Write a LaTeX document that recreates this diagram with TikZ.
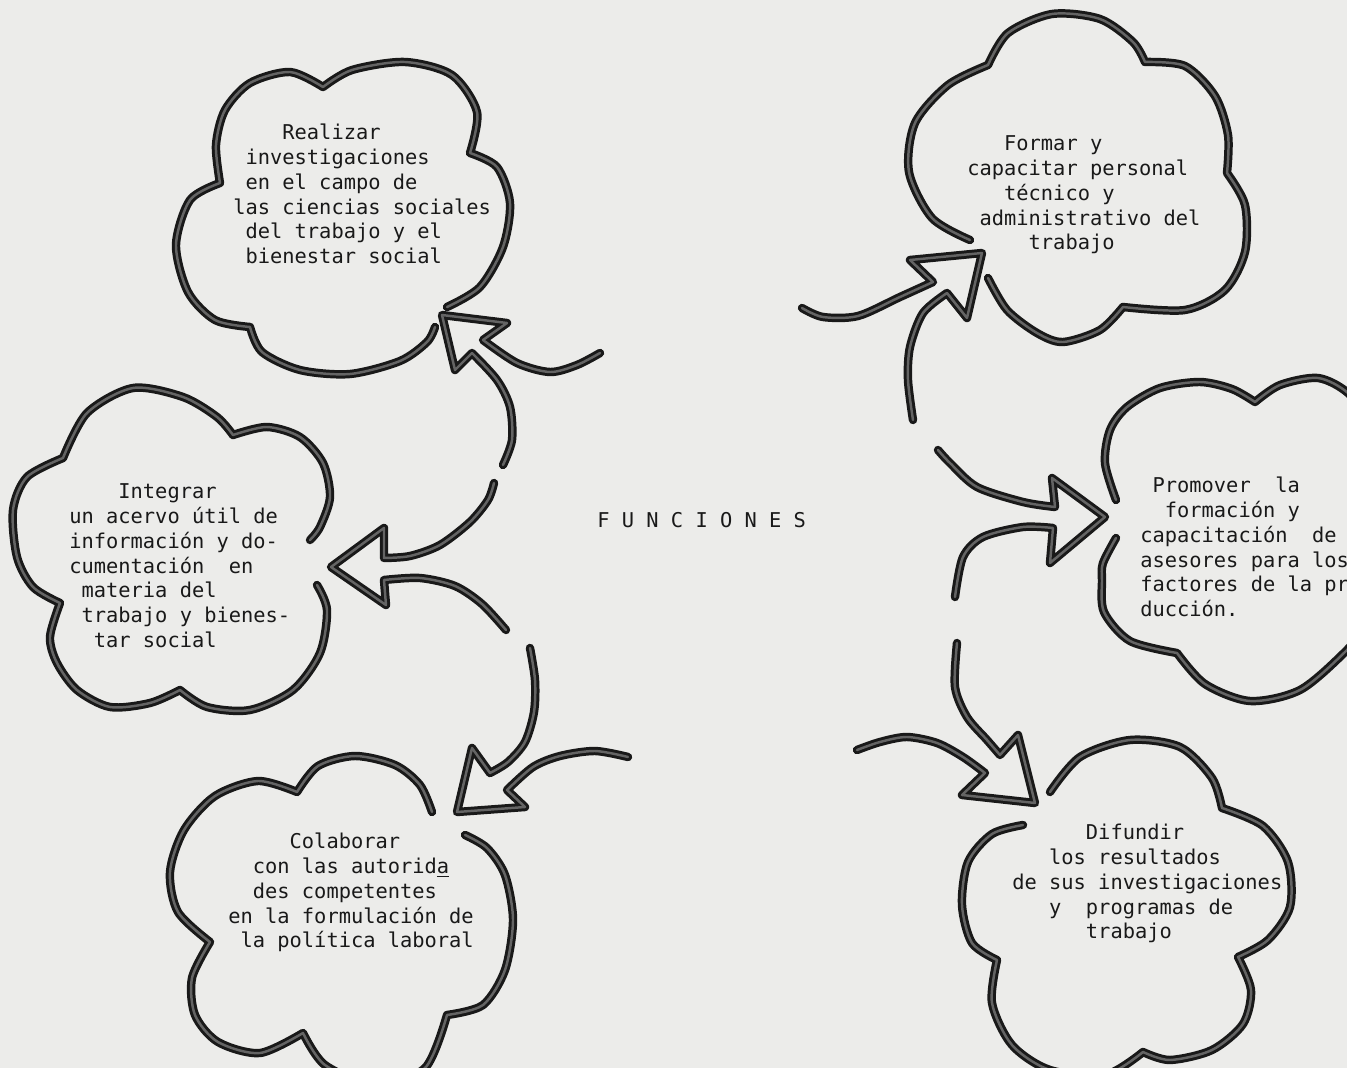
\documentclass[tikz,border=0pt]{standalone}
\usepackage{fontspec}
\setmonofont{DejaVu Sans Mono}
\definecolor{papel}{RGB}{236,236,234}
\definecolor{tinta}{RGB}{25,25,25}
\definecolor{grano}{RGB}{100,100,100}
\begin{document}
\begin{tikzpicture}[x=0.02cm,y=-0.02cm,
  trazo/.style={draw=tinta,line width=1.7pt,double=grano,double distance=1.4pt,line cap=round,line join=round},
  txt/.style={font=\ttfamily\fontsize{11.6}{14.1}\selectfont,align=left,anchor=north west,inner sep=0pt,text=tinta}]
\useasboundingbox (0,0) rectangle (1347,1068);
\clip (0,0) rectangle (1347,1068);
\fill[papel] (0,0) rectangle (1347,1068);
\node[txt] (realizar) at (233,122) {\strut~~~~Realizar\\~investigaciones\\~en el campo de\\las ciencias sociales\\~del trabajo y el\\~bienestar social};
\node[txt] (integrar) at (69,481) {\strut~~~~Integrar\\un acervo útil de\\información y do-\\cumentación~ en\\~materia del\\~trabajo y bienes-\\~~tar social};
\node[txt] (colaborar) at (228,831) {\strut~~~~~Colaborar\\~~con las autorid\underline{a}\\~~des competentes\\en la formulación de\\~la política laboral};
\node[txt] (formar) at (967,133) {\strut~~~Formar y\\capacitar personal\\~~~técnico y\\~administrativo del\\~~~~~trabajo};
\node[txt] (promover) at (1140,475) {\strut~Promover~ la\\~~formación y\\capacitación~ de\\asesores para los\\factores de la pr\\ducción.};
\node[txt] (difundir) at (1012,822) {\strut~~~~~~Difundir\\~~~los resultados\\de sus investigaciones\\~~~y~ programas de\\~~~~~~trabajo};
\node[txt,anchor=base west] (funciones) at (597,527) {F U N C I O N E S};
\coordinate (puntaR) at (442,315);
\coordinate (puntaI) at (331,567);
\coordinate (puntaC) at (457,812);
\coordinate (puntaF) at (982,253);
\coordinate (puntaP) at (1105,517);
\coordinate (puntaD) at (1035,803);
\draw[trazo] plot[smooth] coordinates {(447,307) (480,287) (503,247) (510,203) (497,167) (470,153)}
  -- plot[smooth] coordinates {(470,153) (477,112) (452,75) (405,62) (352,70) (323,87)}
  -- plot[smooth] coordinates {(323,87) (290,72) (250,83) (225,110) (216,145) (220,183)}
  -- plot[smooth] coordinates {(220,183) (190,200) (176,245) (188,292) (215,320) (250,327)}
  -- plot[smooth] coordinates {(250,327) (262,352) (300,370) (350,374) (400,361) (427,342) (435,327)};
\draw[trazo] plot[smooth] coordinates {(310,540) (320,527) (330,497) (323,463) (300,437) (267,427) (233,435)}
  -- plot[smooth] coordinates {(233,435) (217,417) (183,397) (133,388) (87,413) (63,458)}
  -- plot[smooth] coordinates {(63,458) (27,477) (13,510) (17,557) (33,587) (60,603)}
  -- plot[smooth] coordinates {(60,603) (50,637) (57,663) (77,690) (110,707) (150,703) (180,690)}
  -- plot[smooth] coordinates {(180,690) (207,707) (250,710) (293,690) (320,653) (327,610) (317,585)};
\draw[trazo] plot[smooth] coordinates {(432,812) (420,785) (395,765) (355,756) (318,766) (297,792)}
  -- plot[smooth] coordinates {(297,792) (258,781) (215,796) (184,830) (170,872) (178,912) (210,942)}
  -- plot[smooth] coordinates {(210,942) (192,978) (195,1015) (218,1042) (260,1053) (303,1033)}
  -- plot[smooth] coordinates {(303,1033) (325,1065) (375,1085) (425,1068) (447,1015)}
  -- plot[smooth] coordinates {(447,1015) (483,1005) (505,970) (513,920) (505,875) (487,848) (465,835)};
\draw[trazo] plot[smooth] coordinates {(970,240) (932,218) (909,172) (915,123) (948,85) (988,65)}
  -- plot[smooth] coordinates {(988,65) (1008,33) (1052,14) (1100,19) (1133,42) (1145,62)}
  -- plot[smooth] coordinates {(1145,62) (1185,66) (1215,96) (1228,135) (1227,173)}
  -- plot[smooth] coordinates {(1227,173) (1245,205) (1245,252) (1225,290) (1185,310) (1123,307)}
  -- plot[smooth] coordinates {(1123,307) (1100,330) (1063,342) (1037,333) (1007,310) (988,278)};
\draw[trazo] plot[smooth] coordinates {(1116,500) (1105,463) (1110,430) (1127,407) (1160,388) (1200,382) (1232,389) (1255,402)}
  -- plot[smooth] coordinates {(1255,402) (1280,385) (1318,378) (1348,393) (1372,425)}
  -- (1400,425) -- (1400,620)
  -- plot[smooth] coordinates {(1372,620) (1345,652) (1300,690) (1250,701) (1205,684) (1177,653)}
  -- plot[smooth] coordinates {(1177,653) (1130,641) (1104,612) (1102,580) (1103,563) (1116,538)};
\draw[trazo] plot[smooth] coordinates {(1050,792) (1080,757) (1130,740) (1180,747) (1212,778) (1222,808)}
  -- plot[smooth] coordinates {(1222,808) (1263,826) (1288,862) (1290,907) (1268,940) (1238,957)}
  -- plot[smooth] coordinates {(1238,957) (1251,990) (1243,1024) (1212,1050) (1170,1060) (1143,1052)}
  -- plot[smooth] coordinates {(1143,1052) (1105,1075) (1050,1070) (1012,1045) (992,1003) (997,960)}
  -- plot[smooth] coordinates {(997,960) (972,943) (962,905) (968,862) (992,834) (1023,825)};
\draw[trazo] plot[smooth] coordinates {(600,353) (577,365) (550,372) (517,363) (483,340)} -- (507,323) -- (puntaR) -- (455,370)
  -- plot[smooth] coordinates {(472,353) (497,380) (510,407) (512,440) (503,465)};
\draw[trazo] plot[smooth] coordinates {(494,483) (488,500) (470,522) (440,545) (410,556) (384,558)} -- (384,528) -- (puntaI) -- (386,605)
  -- plot[smooth] coordinates {(384,580) (420,578) (455,586) (482,604) (506,630)};
\draw[trazo] plot[smooth] coordinates {(530,648) (535,680) (534,712) (525,742) (508,762) (490,773)} -- (472,748) -- (puntaC) -- (525,807)
  -- plot[smooth] coordinates {(507,790) (533,767) (560,756) (595,751) (628,757)};
\draw[trazo] plot[smooth] coordinates {(802,308) (823,317) (858,316) (900,297) (933,282)} -- (910,260) -- (puntaF) -- (967,318)
  -- plot[smooth] coordinates {(947,293) (923,313) (910,347) (908,380) (913,420)};
\draw[trazo] plot[smooth] coordinates {(938,450) (950,463) (977,487) (1023,502) (1055,507)} -- (1052,478) -- (puntaP) -- (1050,563)
  -- plot[smooth] coordinates {(1053,528) (1023,527) (983,537) (963,557) (955,597)};
\draw[trazo] plot[smooth] coordinates {(957,643) (955,687) (967,717) (987,740) (1000,755)} -- (1018,735) -- (puntaD) -- (962,795)
  -- plot[smooth] coordinates {(985,773) (963,757) (937,743) (907,737) (880,742) (857,750)};
\end{tikzpicture}
\end{document}
